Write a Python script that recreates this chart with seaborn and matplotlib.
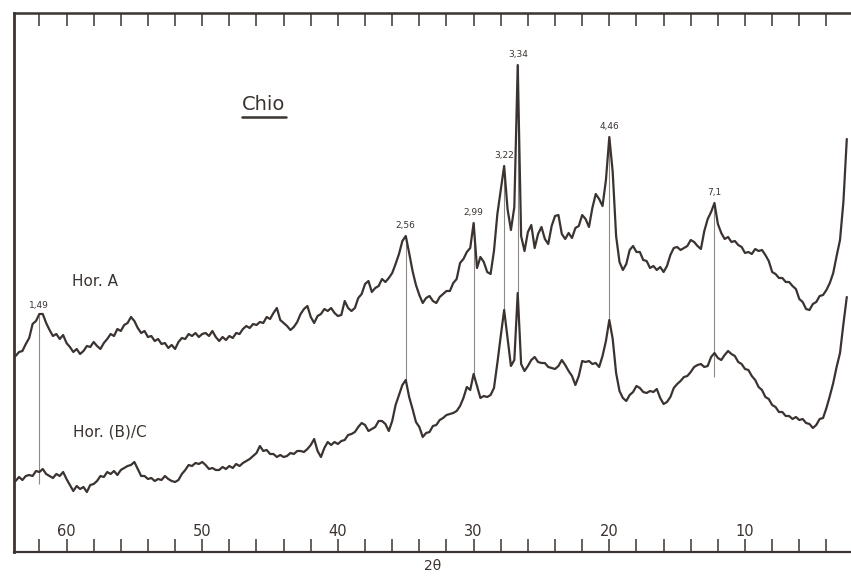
import numpy as np
import pandas as pd
import matplotlib
matplotlib.use("Agg")
import matplotlib.pyplot as plt
from matplotlib.lines import Line2D
import seaborn as sns

# ---------------- data ----------------
# 2θ grid: 63.75 down to 2.5 in steps of 0.25 (4 values per degree row)
TT_START, TT_STEP = 63.75, 0.25

hor_a = [
    196, 200, 201, 208,  # 63
    214, 228, 231, 238,  # 62
    238, 229, 222, 216,  # 61
    218, 213, 217, 209,  # 60
    205, 200, 203, 198,  # 59
    201, 206, 205, 210,  # 58
    206, 203, 209, 213,  # 57
    218, 216, 223, 221,  # 56
    227, 229, 235, 231,  # 55
    224, 219, 221, 215,  # 54
    216, 211, 213, 208,  # 53
    209, 204, 207, 203,  # 52
    210, 214, 213, 218,  # 51
    216, 219, 215, 218,  # 50
    219, 216, 221, 215,  # 49
    211, 215, 212, 216,  # 48
    214, 219, 218, 223,  # 47
    226, 224, 228, 227,  # 46
    230, 229, 235, 233,  # 45
    239, 244, 232, 229,  # 44
    226, 222, 225, 230,  # 43
    238, 243, 246, 235,  # 42
    229, 236, 238, 243,  # 41
    241, 244, 239, 236,  # 40
    237, 251, 244, 241,  # 39
    244, 254, 258, 268,  # 38
    271, 260, 264, 266,  # 37
    273, 270, 274, 279,  # 36
    288, 298, 311, 316,  # 35
    299, 281, 267, 257,  # 34
    249, 254, 256, 251,  # 33
    249, 255, 258, 261,  # 32
    261, 269, 273, 289,  # 31
    293, 300, 304, 329,  # 30
    284, 295, 290, 280,  # 29
    278, 301, 338, 362,  # 28
    386, 343, 322, 345,  # 27
    487, 316, 301, 320,  # 26
    327, 304, 318, 325,  # 25
    313, 308, 326, 336,  # 24
    337, 318, 313, 319,  # 23
    314, 324, 326, 337,  # 22
    333, 325, 344, 358,  # 21
    353, 346, 372, 415,  # 20
    380, 316, 290, 282,  # 19
    288, 302, 306, 300,  # 18
    300, 292, 291, 284,  # 17
    286, 282, 285, 280,  # 16
    286, 297, 304, 305,  # 15
    302, 304, 306, 312,  # 14
    310, 306, 303, 321,  # 13
    333, 340, 349, 328,  # 12
    319, 313, 315, 310,  # 11
    311, 307, 305, 299,  # 10
    300, 298, 303, 301,  # 9
    302, 297, 291, 280,  # 8
    278, 274, 274, 270,  # 7
    270, 266, 263, 253,  # 6
    250, 243, 242, 248,  # 5
    250, 256, 257, 262,  # 4
    269, 279, 296, 312,  # 3
    350, 413,            # 2
]

hor_bc = [
    71, 75, 72, 76,      # 63
    77, 76, 81, 80,      # 62
    83, 78, 76, 74,      # 61
    78, 76, 80, 73,      # 60
    67, 61, 66, 63,      # 59
    65, 60, 67, 68,      # 58
    71, 76, 75, 80,      # 57
    78, 81, 77, 82,      # 56
    84, 86, 87, 90,      # 55
    83, 76, 76, 73,      # 54
    74, 71, 73, 72,      # 53
    76, 73, 71, 70,      # 52
    72, 78, 82, 87,      # 51
    86, 89, 88, 90,      # 50
    87, 83, 84, 82,      # 49
    82, 85, 83, 86,      # 48
    84, 88, 86, 89,      # 47
    91, 93, 96, 99,      # 46
    106, 101, 102, 98,   # 45
    98, 95, 97, 95,      # 44
    96, 99, 98, 101,     # 43
    101, 100, 103, 107,  # 42
    113, 101, 95, 104,   # 41
    110, 107, 110, 108,  # 40
    111, 112, 117, 118,  # 39
    120, 125, 129, 127,  # 38
    121, 123, 125, 131,  # 37
    131, 128, 121, 131,  # 36
    147, 157, 167, 172,  # 35
    155, 143, 130, 125,  # 34
    115, 119, 120, 126,  # 33
    127, 132, 134, 137,  # 32
    138, 139, 141, 146,  # 31
    154, 165, 162, 178,  # 30
    166, 154, 156, 155,  # 29
    157, 164, 189, 216,  # 28
    242, 214, 186, 192,  # 27
    259, 188, 181, 186,  # 26
    192, 195, 190, 189,  # 25
    189, 185, 184, 183,  # 24
    186, 192, 187, 181,  # 23
    176, 167, 176, 191,  # 22
    190, 191, 188, 189,  # 21
    185, 196, 211, 232,  # 20
    213, 179, 161, 154,  # 19
    151, 157, 160, 166,  # 18
    164, 160, 159, 161,  # 17
    160, 163, 154, 148,  # 16
    150, 155, 164, 168,  # 15
    171, 175, 176, 180,  # 14
    185, 187, 188, 185,  # 13
    186, 195, 199, 194,  # 12
    192, 197, 201, 198,  # 11
    196, 190, 188, 183,  # 10
    182, 176, 172, 165,  # 9
    162, 155, 153, 147,  # 8
    145, 140, 140, 136,  # 7
    136, 133, 135, 132,  # 6
    133, 129, 128, 124,  # 5
    127, 133, 134, 144,  # 4
    156, 169, 185, 199,  # 3
    228, 255,            # 2
]

# d-spacing annotations (Å) with their 2θ and the span of the marker line
peak_labels = ["1,49", "2,56", "2,99", "3,22", "3,34", "4,46", "7,1"]
peak_two_theta = [62.0, 35.0, 30.0, 27.75, 26.75, 20.0, 12.25]
peak_line_low = [68, 172, 178, 242, 259, 232, 175]
peak_line_high = [236, 316, 329, 386, 487, 415, 349]

major_ticks = [60, 50, 40, 30, 20, 10]
minor_ticks = list(range(62, 3, -2))

# ---------------- build tidy frame ----------------
tt_a = TT_START - TT_STEP * np.arange(len(hor_a))
tt_b = TT_START - TT_STEP * np.arange(len(hor_bc))
df = pd.concat([
    pd.DataFrame({"two_theta": tt_a, "intensity": hor_a, "horizon": "Hor. A"}),
    pd.DataFrame({"two_theta": tt_b, "intensity": hor_bc, "horizon": "Hor. (B)/C"}),
], ignore_index=True)

# ---------------- style ----------------
sns.set_style("white")
plt.rcParams["font.family"] = ["DejaVu Sans"]
ink = "#3b3330"
grey = "#8f8985"

W, H = 851, 576
fig = plt.figure(figsize=(W / 100, H / 100), dpi=100)
fig.patch.set_facecolor("white")
ax = fig.add_axes([14 / W, 24 / H, 1 - 14 / W, 539 / H])
ax.set_facecolor("white")

sns.lineplot(data=df, x="two_theta", y="intensity", hue="horizon",
             palette=[ink, ink], estimator=None, sort=False, legend=False,
             linewidth=1.6, ax=ax)

# peak marker lines and labels
for lab, tt, lo, hi in zip(peak_labels, peak_two_theta, peak_line_low, peak_line_high):
    ax.vlines(tt, lo, hi, color=grey, linewidth=0.8, zorder=1)
    ax.annotate(lab, (tt, hi), xytext=(0, 4), textcoords="offset points",
                ha="center", va="bottom", fontsize=6.5, color=ink)

ax.set_xlim(63.87, 2.19)
ax.set_ylim(0, 539)

# axes frame
ax.spines["right"].set_visible(False)
ax.spines["left"].set_linewidth(2.0)
ax.spines["top"].set_linewidth(1.8)
ax.spines["bottom"].set_linewidth(1.6)
for s in ["left", "top", "bottom"]:
    ax.spines[s].set_color(ink)

ax.set_yticks([])
ax.set_ylabel("")
ax.set_xticks(major_ticks)
ax.set_xticklabels([str(t) for t in major_ticks])
ax.set_xticks(minor_ticks, minor=True)
ax.tick_params(axis="x", which="both", direction="in", length=9.5, width=1.1,
               top=True, bottom=True, labeltop=False, color=ink)
ax.tick_params(axis="x", which="major", labelsize=10.5, labelcolor=ink, pad=-20)
ax.set_xlabel("2θ", fontsize=10, color=ink, labelpad=1.5)

# texts
ax.text(0.0693, 0.501, "Hor. A", transform=ax.transAxes, fontsize=11,
        color=ink, ha="left", va="center")
ax.text(0.0705, 0.2226, "Hor. (B)/C", transform=ax.transAxes, fontsize=11,
        color=ink, ha="left", va="center")
chio = ax.text(0.2987, 0.831, "Chio", transform=ax.transAxes, fontsize=14,
               color=ink, ha="center", va="center")

fig.canvas.draw()
bb = chio.get_window_extent()
fig.add_artist(Line2D([bb.x0, bb.x1], [bb.y0 - 3, bb.y0 - 3], transform=None,
                      color=ink, linewidth=1.8))

fig.savefig("out.png", dpi=100, facecolor="white")
